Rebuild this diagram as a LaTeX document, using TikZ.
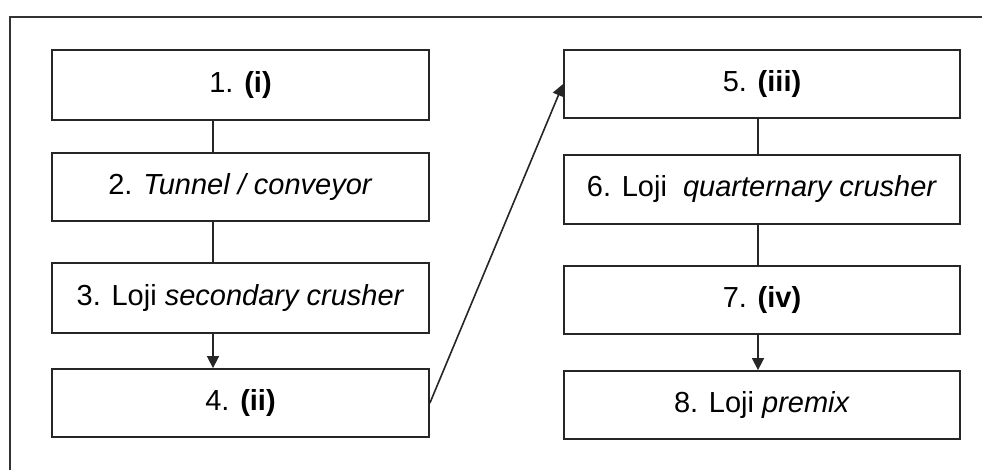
\documentclass[tikz,border=0pt]{standalone}
\usepackage{fontspec}
\setmainfont{Liberation Sans}
\usetikzlibrary{arrows.meta}
\begin{document}
\begin{tikzpicture}[x=1pt,y=-1pt,
  stepbox/.style={draw=black!85, line width=1.8pt, inner sep=0pt, font=\fontsize{29}{33}\selectfont},
  lbox/.style={stepbox, minimum width=377pt},
  rbox/.style={stepbox, minimum width=396pt},
  link/.style={draw=black!85, line width=1.6pt},
  flow/.style={link, -{Triangle[length=12pt,width=12pt]}}]
\useasboundingbox[fill=white] (0,0) rectangle (982,470);
% frame (top and left edges visible)
\draw[black!80, line width=1.8pt] (982,17) -- (10,17) -- (10,470);
% left column
\node[lbox, minimum height=70pt] (b1) at (240.5,85) {1. \textbf{(i)}};
\node[lbox, minimum height=68pt] (b2) at (240.5,187) {2. \textit{Tunnel / conveyor}};
\node[lbox, minimum height=70pt] (b3) at (240.5,298) {3. Loji \textit{secondary crusher}};
\node[lbox, minimum height=68pt] (b4) at (240.5,403) {4. \textbf{(ii)}};
% right column
\node[rbox, minimum height=68pt] (b5) at (762,84) {5. \textbf{(iii)}};
\node[rbox, minimum height=69pt] (b6) at (762,189.5) {6. Loji\ \ \textit{quarternary crusher}};
\node[rbox, minimum height=68pt] (b7) at (762,300) {7. \textbf{(iv)}};
\node[rbox, minimum height=68pt] (b8) at (762,405) {8. Loji \textit{premix}};
\coordinate (lx) at (213,0);
\coordinate (rx) at (758,0);
\draw[link] (b1.south -| lx) -- (b2.north -| lx);
\draw[link] (b2.south -| lx) -- (b3.north -| lx);
\draw[flow] (b3.south -| lx) -- (b4.north -| lx);
\draw[link] (b5.south -| rx) -- (b6.north -| rx);
\draw[link] (b6.south -| rx) -- (b7.north -| rx);
\draw[flow] (b7.south -| rx) -- (b8.north -| rx);
\draw[flow] (b4.east) -- (b5.west);
\end{tikzpicture}
\end{document}
